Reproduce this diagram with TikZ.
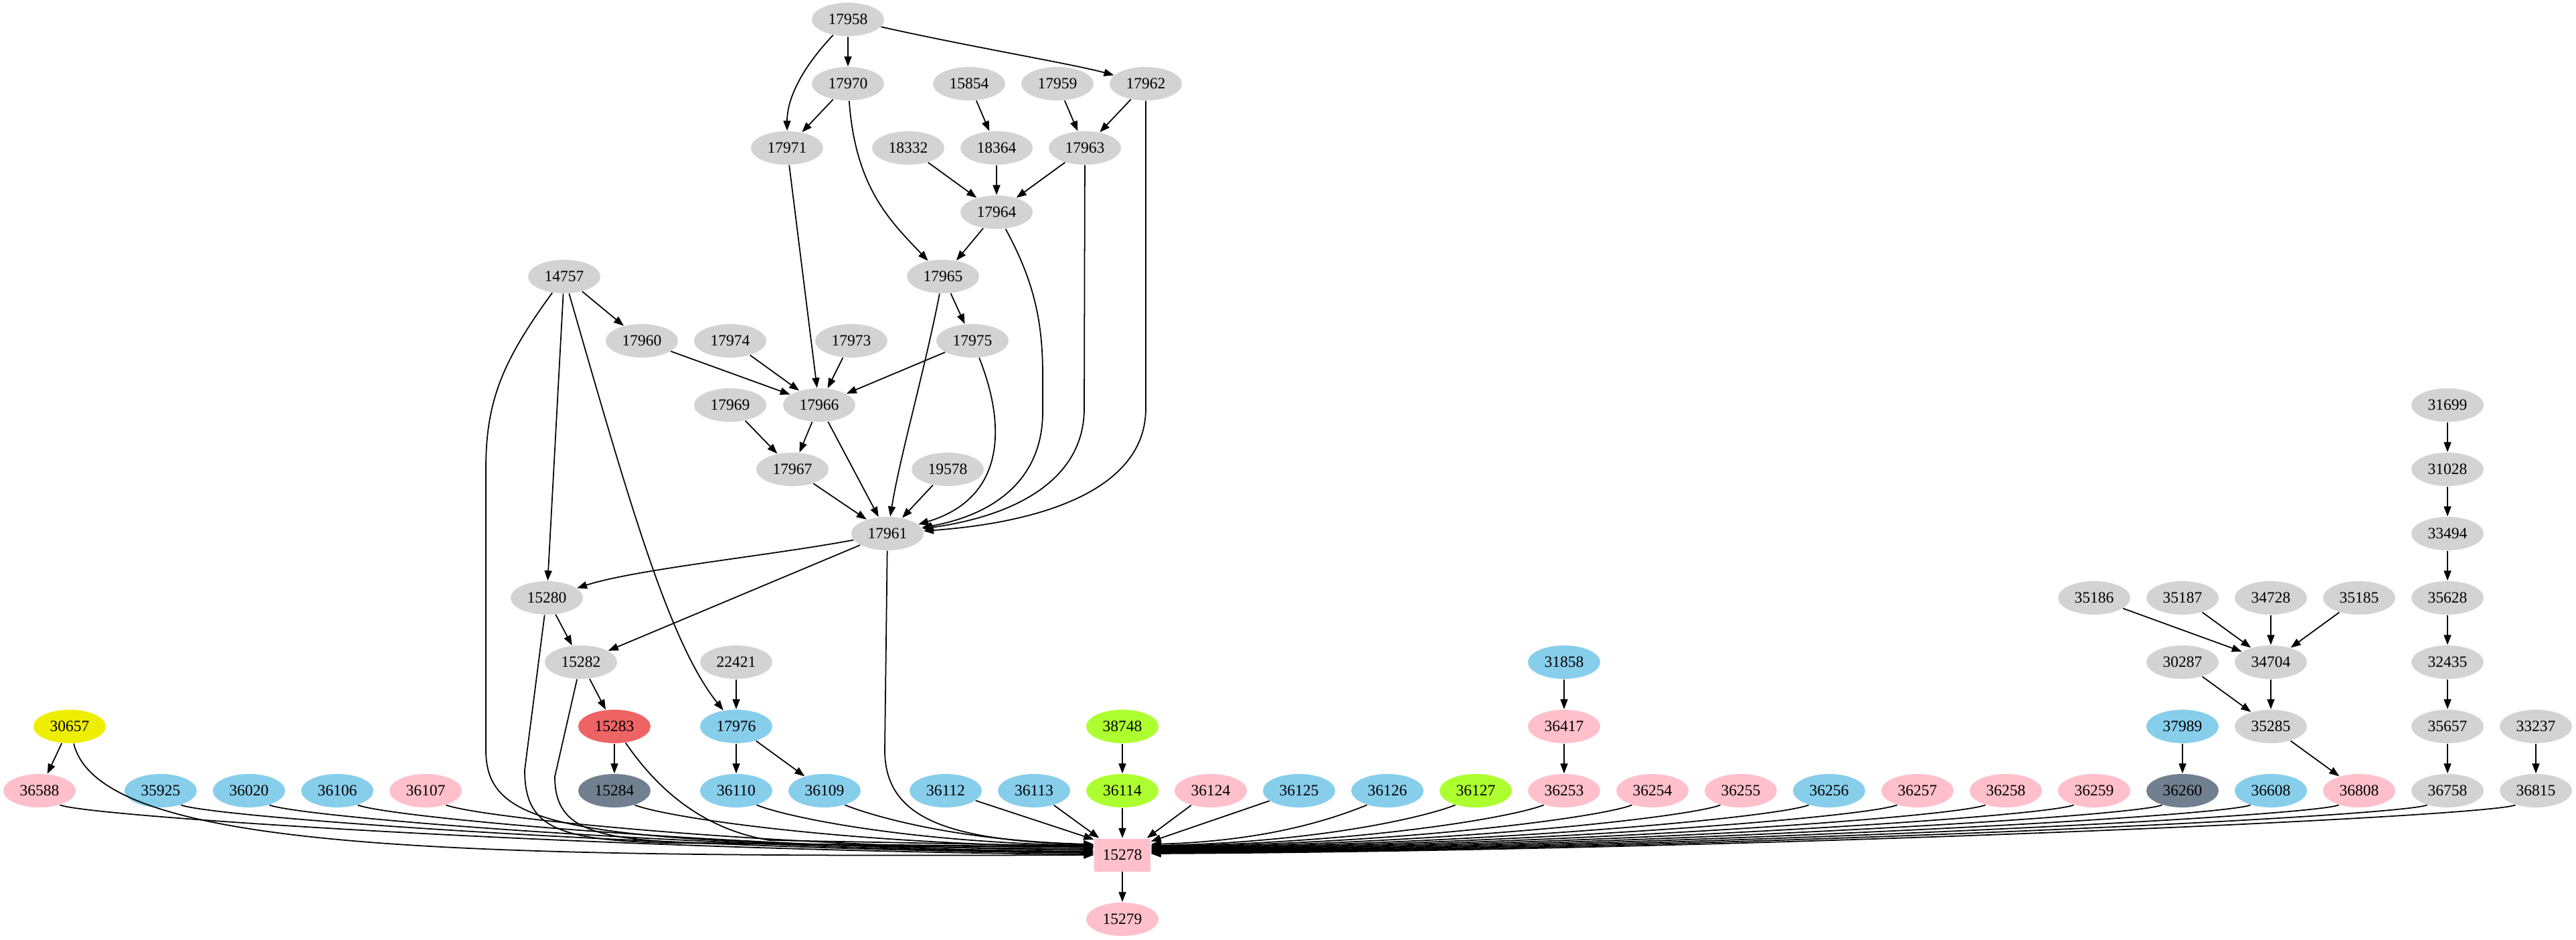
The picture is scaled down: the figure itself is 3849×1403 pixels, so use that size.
\documentclass[tikz,border=0pt]{standalone}
\usepackage{fontspec}
\setmainfont{Liberation Serif}
\usetikzlibrary{shapes.geometric,arrows.meta}
\definecolor{ngray}{HTML}{D3D3D3}
\definecolor{npink}{HTML}{FFC0CB}
\definecolor{nsky}{HTML}{87CEEB}
\definecolor{ngreen}{HTML}{ADFF2F}
\definecolor{nyel}{HTML}{EEEE00}
\definecolor{nred}{HTML}{EE6363}
\definecolor{nslate}{HTML}{708090}
\tikzset{
  nd/.style={ellipse, fill=ngray, minimum width=10.8mm, minimum height=5mm, inner sep=0pt, font=\fontsize{6.7}{8}\selectfont},
  gy/.style={nd},
  pk/.style={nd, fill=npink},
  sk/.style={nd, fill=nsky},
  gn/.style={nd, fill=ngreen},
  sl/.style={nd, fill=nslate},
  ed/.style={-{Triangle[length=1.5mm,width=1.1mm]}, line width=0.5pt},
}
\begin{document}
\begin{tikzpicture}[x=0.1mm, y=0.1mm]
    \useasboundingbox (0,0) rectangle (3849,-1403);

    \node[gy] (n17958) at (1267,-29) {17958};

    \node[gy] (n17970) at (1267,-125) {17970};
    \node[gy] (n15854) at (1448,-125) {15854};
    \node[gy] (n17959) at (1580,-125) {17959};
    \node[gy] (n17962) at (1712,-125) {17962};

    \node[gy] (n17971) at (1176,-221) {17971};
    \node[gy] (n18332) at (1357,-221) {18332};
    \node[gy] (n18364) at (1489,-221) {18364};
    \node[gy] (n17963) at (1621,-221) {17963};

    \node[gy] (n17964) at (1489,-317) {17964};

    \node[gy] (n14757) at (843,-413) {14757};
    \node[gy] (n17965) at (1409,-413) {17965};

    \node[gy] (n17960) at (959,-509) {17960};
    \node[gy] (n17974) at (1091,-509) {17974};
    \node[gy] (n17973) at (1272,-509) {17973};
    \node[gy] (n17975) at (1453,-509) {17975};

    \node[gy] (n17969) at (1091,-605) {17969};
    \node[gy] (n17966) at (1224,-605) {17966};
    \node[gy] (n31699) at (3657,-605) {31699};

    \node[gy] (n17967) at (1184,-701) {17967};
    \node[gy] (n19578) at (1416,-701) {19578};
    \node[gy] (n31028) at (3657,-701) {31028};

    \node[gy] (n17961) at (1326,-797) {17961};
    \node[gy] (n33494) at (3657,-797) {33494};

    \node[gy] (n15280) at (817,-893) {15280};
    \node[gy] (n35186) at (3129,-893) {35186};
    \node[gy] (n35187) at (3261,-893) {35187};
    \node[gy] (n34728) at (3393,-893) {34728};
    \node[gy] (n35185) at (3525,-893) {35185};
    \node[gy] (n35628) at (3657,-893) {35628};

    \node[gy] (n15282) at (868,-989) {15282};
    \node[gy] (n22421) at (1100,-989) {22421};
    \node[sk] (n31858) at (2337,-989) {31858};
    \node[gy] (n30287) at (3261,-989) {30287};
    \node[gy] (n34704) at (3393,-989) {34704};
    \node[gy] (n32435) at (3657,-989) {32435};

    \node[nd, fill=nyel] (n30657) at (104,-1085) {30657};
    \node[nd, fill=nred] (n15283) at (918,-1085) {15283};
    \node[sk] (n17976) at (1100,-1085) {17976};
    \node[gn] (n38748) at (1677,-1085) {38748};
    \node[pk] (n36417) at (2337,-1085) {36417};
    \node[sk] (n37989) at (3261,-1085) {37989};
    \node[gy] (n35285) at (3393,-1085) {35285};
    \node[gy] (n35657) at (3657,-1085) {35657};
    \node[gy] (n33237) at (3789,-1085) {33237};

    \foreach \n/\x/\s in {36588/59/pk, 35925/240/sk, 36020/372/sk, 36106/504/sk, 36107/636/pk,
        15284/918/sl, 36110/1100/sk, 36109/1232/sk, 36112/1413/sk, 36113/1545/sk, 36114/1677/gn,
        36124/1809/pk, 36125/1941/sk, 36126/2073/sk, 36127/2205/gn, 36253/2337/pk, 36254/2469/pk,
        36255/2601/pk, 36256/2733/sk, 36257/2865/pk, 36258/2997/pk, 36259/3129/pk, 36260/3261/sl,
        36608/3393/sk, 36808/3525/pk, 36758/3657/gy, 36815/3789/gy}
        \node[\s] (n\n) at (\x,-1181) {\n};

    \node[rectangle, fill=npink, minimum width=8.4mm, minimum height=4.9mm, inner sep=0pt,
        font=\fontsize{6.7}{8}\selectfont] (n15278) at (1677,-1277) {15278};
    \node[pk] (n15279) at (1677,-1373) {15279};

    \draw[ed] (n17958) -- (n17970);
    \draw[ed] (n17958) .. controls (1195,-105) and (1176,-150) .. (n17971);
    \draw[ed] (n17958) .. controls (1450,-70) and (1600,-95) .. (n17962);
    \draw[ed] (n17970) -- (n17971);
    \draw[ed] (n17970) .. controls (1278,-280) and (1330,-330) .. (n17965);
    \draw[ed] (n15854) -- (n18364);
    \draw[ed] (n17959) -- (n17963);
    \draw[ed] (n17962) -- (n17963);
    \draw[ed] (n17962) -- (1712,-610) .. controls (1712,-730) and (1560,-780) .. (n17961);
    \draw[ed] (n17971) -- (n17966);
    \draw[ed] (n18332) -- (n17964);
    \draw[ed] (n18364) -- (n17964);
    \draw[ed] (n17963) -- (n17964);
    \draw[ed] (n17963) -- (1620,-610) .. controls (1620,-715) and (1520,-770) .. (n17961);
    \draw[ed] (n17964) -- (n17965);
    \draw[ed] (n17964) .. controls (1545,-420) and (1558,-480) .. (1558,-560) -- (1558,-615)
        .. controls (1558,-720) and (1480,-770) .. (n17961);
    \draw[ed] (n17965) -- (n17975);
    \draw[ed] (n17965) .. controls (1380,-560) and (1345,-680) .. (n17961);
    \draw[ed] (n14757) -- (n17960);
    \draw[ed] (n14757) -- (n15280);
    \draw[ed] (n14757) .. controls (940,-750) and (1000,-960) .. (n17976);
    \draw[ed] (n14757) .. controls (750,-540) and (726,-600) .. (726,-700) -- (726,-1120)
        .. controls (726,-1240) and (850,-1262) .. ([yshift=0.9mm]n15278.west);
    \draw[ed] (n17960) -- (n17966);
    \draw[ed] (n17974) -- (n17966);
    \draw[ed] (n17973) -- (n17966);
    \draw[ed] (n17975) -- (n17966);
    \draw[ed] (n17975) .. controls (1505,-640) and (1500,-745) .. (n17961);
    \draw[ed] (n17969) -- (n17967);
    \draw[ed] (n17966) -- (n17967);
    \draw[ed] (n17966) -- (n17961);
    \draw[ed] (n17967) -- (n17961);
    \draw[ed] (n19578) -- (n17961);
    \draw[ed] (n17961) .. controls (1150,-830) and (950,-850) .. (n15280);
    \draw[ed] (n17961) -- (n15282);
    \draw[ed] (n17961) -- (1322,-1120) .. controls (1322,-1225) and (1420,-1255) .. ([yshift=1.5mm]n15278.west);
    \draw[ed] (n15280) -- (n15282);
    \draw[ed] (n15280) -- (784,-1150) .. controls (784,-1235) and (830,-1255) .. (1000,-1259)
        -- ([yshift=1.1mm]n15278.west);
    \draw[ed] (n15282) -- (n15283);
    \draw[ed] (n15282) -- (829,-1160) .. controls (829,-1235) and (880,-1255) .. (1050,-1259)
        -- ([yshift=1.2mm]n15278.west);
    \draw[ed] (n22421) -- (n17976);
    \draw[ed] (n15283) -- (n15284);
    \draw[ed] (n15283) .. controls (990,-1190) and (1060,-1240) .. (1150,-1255) -- ([yshift=1.3mm]n15278.west);
    \draw[ed] (n17976) -- (n36110);
    \draw[ed] (n17976) -- (n36109);
    \draw[ed] (n30657) -- (n36588);
    \draw[ed] (n30657) .. controls (150,-1275) and (700,-1280) .. (n15278.west);
    \draw[ed] (n38748) -- (n36114);
    \draw[ed] (n31858) -- (n36417);
    \draw[ed] (n36417) -- (n36253);
    \draw[ed] (n37989) -- (n36260);
    \draw[ed] (n31699) -- (n31028);
    \draw[ed] (n31028) -- (n33494);
    \draw[ed] (n33494) -- (n35628);
    \draw[ed] (n35628) -- (n32435);
    \draw[ed] (n32435) -- (n35657);
    \draw[ed] (n35657) -- (n36758);
    \draw[ed] (n35186) -- (n34704);
    \draw[ed] (n35187) -- (n34704);
    \draw[ed] (n34728) -- (n34704);
    \draw[ed] (n35185) -- (n34704);
    \draw[ed] (n30287) -- (n35285);
    \draw[ed] (n34704) -- (n35285);
    \draw[ed] (n35285) -- (n36808);
    \draw[ed] (n33237) -- (n36815);

    \foreach \n/\k/\s in {36588/700/0.1, 35925/650/0.3, 36020/600/0.4, 36106/550/0.5, 36107/500/0.7,
        15284/380/1.2, 36110/280/1.4, 36109/200/1.6}
        \draw[ed] (n\n.-35) .. controls +(45,-18) and +(-\k,5) .. ([yshift=\s mm]n15278.west);
    \draw[ed] (n36112) -- ([yshift=-0.2mm]n15278.north west);
    \draw[ed] (n36113) -- ([xshift=0.8mm]n15278.north west);
    \draw[ed] (n36114) -- (n15278);
    \draw[ed] (n36124) -- ([xshift=-0.6mm]n15278.north east);
    \draw[ed] (n36125) -- ([yshift=-0.5mm]n15278.north east);
    \foreach \n/\k/\s in {36126/180/1.6, 36127/250/1.4, 36253/320/1.3, 36254/380/1.2, 36255/440/1.1,
        36256/500/1.0, 36257/550/0.9, 36258/600/0.8, 36259/650/0.7, 36260/700/0.6, 36608/750/0.5,
        36808/800/0.4, 36758/850/0.3, 36815/900/0.2}
        \draw[ed] (n\n.-145) .. controls +(-45,-18) and +(\k,5) .. ([yshift=\s mm]n15278.east);
    \draw[ed] (n15278) -- (n15279);
\end{tikzpicture}
\end{document}
